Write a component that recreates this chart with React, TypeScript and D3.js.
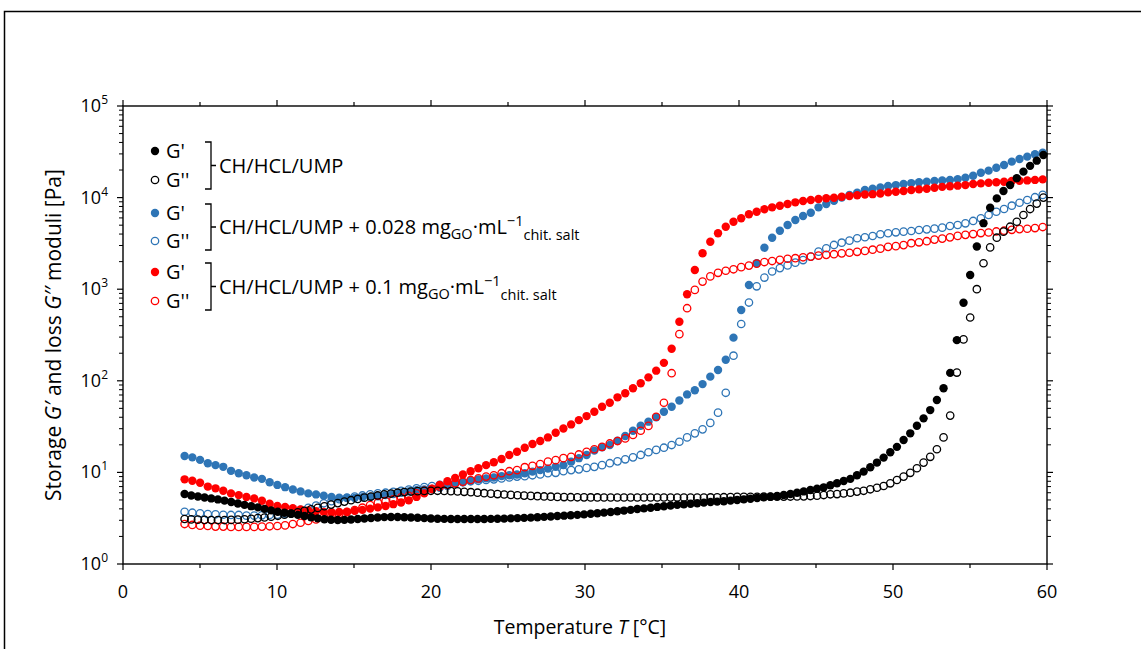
import React from "react";
import * as d3 from "d3";

const W = 1141;
const H = 649;

// Temperature grids (instrument sampling): colored samples every ~0.5 °C, black every ~0.43 °C
const T_START = 4;
const STEP_COLORED = 0.502;
const STEP_BLACK = 0.4323;

const xTicksMajor = [0, 10, 20, 30, 40, 50, 60];
const xTicksMinor = [5, 15, 25, 35, 45, 55];
const yDecades = [0, 1, 2, 3, 4, 5];

// CH/HCL/UMP
const blackG1 = [
  5.8, 5.6, 5.45, 5.33, 5.2, 5.07, 4.92, 4.75, 4.57, 4.42,
  4.28, 4.15, 4.0, 3.85, 3.72, 3.63, 3.53, 3.44, 3.34, 3.24,
  3.15, 3.08, 3.04, 3.02, 3.03, 3.06, 3.1, 3.14, 3.18, 3.22,
  3.25, 3.26, 3.26, 3.24, 3.22, 3.2, 3.17, 3.14, 3.12, 3.11,
  3.1, 3.1, 3.1, 3.1, 3.1, 3.1, 3.11, 3.12, 3.13, 3.15,
  3.17, 3.19, 3.21, 3.24, 3.27, 3.3, 3.34, 3.37, 3.4, 3.44,
  3.48, 3.53, 3.58, 3.64, 3.7, 3.76, 3.83, 3.9, 3.98, 4.05,
  4.12, 4.2, 4.27, 4.35, 4.42, 4.48, 4.55, 4.6, 4.68, 4.75,
  4.8, 4.85, 4.92, 5.0, 5.08, 5.16, 5.25, 5.34, 5.42, 5.52,
  5.66, 5.81, 6.0, 6.2, 6.43, 6.63, 6.87, 7.23, 7.6, 8.05,
  8.5, 9.3, 10.2, 11.4, 12.8, 14.5, 16.6, 19.0, 22.6, 26.7,
  32.3, 38.9, 47.9, 61.8, 83, 122, 278, 712, 1430, 2930,
  5260, 7740, 9800, 11800, 13700, 16300, 19200, 22200, 25300, 29200,
];
const blackG2 = [
  3.1, 3.07, 3.05, 3.03, 3.02, 3.02, 3.02, 3.03, 3.05, 3.08,
  3.12, 3.17, 3.22, 3.28, 3.36, 3.45, 3.55, 3.67, 3.8, 3.95,
  4.1, 4.27, 4.45, 4.62, 4.8, 4.97, 5.13, 5.3, 5.45, 5.6,
  5.75, 5.88, 6.0, 6.1, 6.18, 6.24, 6.28, 6.3, 6.3, 6.28,
  6.24, 6.2, 6.14, 6.08, 6.0, 5.93, 5.86, 5.8, 5.74, 5.68,
  5.63, 5.58, 5.54, 5.5, 5.46, 5.43, 5.4, 5.38, 5.36, 5.35,
  5.34, 5.33, 5.33, 5.32, 5.32, 5.32, 5.32, 5.32, 5.32, 5.32,
  5.32, 5.32, 5.32, 5.32, 5.32, 5.32, 5.32, 5.32, 5.32, 5.33,
  5.34, 5.36, 5.38, 5.4, 5.41, 5.42, 5.42, 5.43, 5.43, 5.44,
  5.44, 5.45, 5.46, 5.48, 5.52, 5.56, 5.66, 5.77, 5.8, 5.9,
  6.0, 6.17, 6.3, 6.54, 6.8, 7.1, 7.6, 8.26, 9.0, 9.9,
  11.1, 12.8, 14.8, 17.9, 24.1, 41.7, 123, 283, 491, 1000,
  1920, 2860, 3650, 4250, 4810, 5450, 6460, 7500, 8600, 10000,
];

// CH/HCL/UMP + 0.028 mg GO
const blueG1 = [
  15.1, 14.6, 13.7, 12.6, 12.0, 11.5, 10.4, 9.8, 9.3, 8.8,
  8.5, 7.8, 7.3, 6.9, 6.5, 6.2, 5.9, 5.75, 5.55, 5.4,
  5.3, 5.25, 5.25, 5.35, 5.4, 5.5, 5.65, 5.8, 6.0, 6.2,
  6.4, 6.5, 6.6, 6.8, 7.1, 7.5, 7.8, 8.1, 8.4, 8.6,
  8.8, 9.1, 9.3, 9.5, 9.8, 10.2, 10.6, 11.0, 11.5, 12.0,
  13.1, 14.3, 15.5, 17.3, 18.8, 19.9, 22.2, 25, 28.5, 32.3,
  35.8, 40, 46, 52, 61, 71, 79, 92, 111, 131,
  170, 296, 593, 1110, 1920, 2840, 3650, 4350, 5020, 5690,
  6290, 6840, 7830, 8510, 9250, 10000, 10700, 11300, 12100, 12500,
  12900, 13400, 13700, 14100, 14400, 14700, 14900, 15200, 15400, 15600,
  15900, 16500, 17300, 18700, 19700, 21200, 22700, 24700, 26400, 28000,
  29700, 30900,
];
const blueG2 = [
  3.72, 3.63, 3.58, 3.51, 3.49, 3.45, 3.43, 3.43, 3.37, 3.37,
  3.4, 3.43, 3.45, 3.55, 3.7, 3.9, 4.1, 4.35, 4.6, 4.85,
  5.1, 5.3, 5.45, 5.6, 5.75, 5.9, 6.0, 6.15, 6.3, 6.5,
  6.7, 6.9, 7.1, 7.3, 7.5, 7.7, 7.85, 8.0, 8.1, 8.26,
  8.4, 8.6, 8.8, 9.0, 9.1, 9.3, 9.5, 9.8, 9.9, 10.3,
  10.6, 10.8, 11.2, 11.5, 12.0, 12.6, 13.2, 13.9, 14.6, 15.5,
  16.6, 17.6, 18.6, 19.9, 21.6, 24.1, 26.7, 29.5, 34.7, 44.9,
  74, 188, 417, 715, 1075, 1340, 1560, 1700, 1820, 1950,
  2080, 2270, 2570, 2800, 3040, 3220, 3390, 3600, 3690, 3810,
  3980, 4080, 4180, 4250, 4320, 4430, 4500, 4580, 4700, 4900,
  5020, 5240, 5560, 5940, 6460, 7010, 7510, 8160, 8790, 9410,
  10100, 10700,
];

// CH/HCL/UMP + 0.1 mg GO
const redG1 = [
  8.4, 8.1, 7.7, 7.0, 6.7, 6.3, 5.9, 5.65, 5.4, 5.2,
  4.9, 4.55, 4.3, 4.2, 4.06, 3.94, 3.84, 3.76, 3.71, 3.68,
  3.7, 3.73, 3.8, 3.9, 4.02, 4.15, 4.3, 4.5, 4.7, 4.95,
  5.4, 5.9, 6.6, 7.3, 8.0, 8.7, 9.5, 10.3, 11.1, 12.0,
  12.9, 14.0, 15.5, 16.8, 18.6, 20.4, 22.0, 24.1, 27.1, 30.2,
  33.4, 37.2, 41.2, 46, 52, 57.6, 66, 73, 83, 94,
  109, 129, 157, 224, 442, 880, 1620, 2470, 3300, 4080,
  4810, 5450, 5940, 6570, 7010, 7450, 7830, 8160, 8510, 8880,
  9180, 9410, 9660, 9820, 9980, 10200, 10400, 10600, 10800, 10900,
  11100, 11400, 11600, 11800, 12100, 12300, 12500, 12800, 13100, 13300,
  13500, 13700, 14100, 14300, 14500, 14700, 14900, 15200, 15300, 15400,
  15600, 15800,
];
const redG2 = [
  2.73, 2.67, 2.62, 2.6, 2.56, 2.56, 2.54, 2.54, 2.54, 2.54,
  2.56, 2.58, 2.6, 2.64, 2.73, 2.82, 2.95, 3.07, 3.23, 3.4,
  3.51, 3.69, 3.88, 4.12, 4.4, 4.67, 4.87, 5.08, 5.34, 5.56,
  5.9, 6.3, 6.6, 7.0, 7.3, 7.6, 7.9, 8.26, 8.6, 9.0,
  9.3, 9.8, 10.3, 10.6, 11.4, 11.8, 12.3, 13.1, 13.6, 14.3,
  14.8, 15.7, 16.8, 17.9, 19.0, 20.7, 22.0, 23.5, 25.6, 28.5,
  32.2, 40.5, 57.6, 121, 323, 620, 983, 1210, 1380, 1510,
  1590, 1650, 1740, 1810, 1900, 1980, 2030, 2090, 2150, 2180,
  2230, 2270, 2330, 2370, 2410, 2460, 2500, 2560, 2620, 2700,
  2770, 2900, 2950, 3030, 3180, 3250, 3340, 3480, 3570, 3680,
  3820, 3920, 4000, 4100, 4160, 4270, 4350, 4450, 4530, 4570,
  4650, 4770,
];

const BLUE = "#2E75B6";
const RED = "#FF0000";
const BLACK = "#000000";

const FONT = "'Open Sans', Lato, 'DejaVu Sans', sans-serif";

type Series = { values: number[]; step: number; color: string; filled: boolean };

const seriesList: Series[] = [
  { values: blueG1, step: STEP_COLORED, color: BLUE, filled: true },
  { values: blueG2, step: STEP_COLORED, color: BLUE, filled: false },
  { values: redG1, step: STEP_COLORED, color: RED, filled: true },
  { values: redG2, step: STEP_COLORED, color: RED, filled: false },
  { values: blackG1, step: STEP_BLACK, color: BLACK, filled: true },
  { values: blackG2, step: STEP_BLACK, color: BLACK, filled: false },
];

const legendRows = [
  { y: 151, color: BLACK, filled: true, label: "G'" },
  { y: 180, color: BLACK, filled: false, label: "G''" },
  { y: 213, color: BLUE, filled: true, label: "G'" },
  { y: 241, color: BLUE, filled: false, label: "G''" },
  { y: 272, color: RED, filled: true, label: "G'" },
  { y: 301, color: RED, filled: false, label: "G''" },
];

const groupLabels = [
  { main: "CH/HCL/UMP", conc: "" },
  { main: "CH/HCL/UMP + 0.028 mg", conc: "0.028" },
  { main: "CH/HCL/UMP + 0.1 mg", conc: "0.1" },
];

export default function App() {
  const x = d3.scaleLinear().domain([0, 60]).range([123, 1047]);
  const y = d3.scaleLog().domain([1, 1e5]).range([564, 106]);
  const [x0, x1] = x.range();
  const [yb, yt] = y.range();

  const minorY: number[] = [];
  for (let d = 0; d < 5; d++) for (let m = 2; m <= 9; m++) minorY.push(m * Math.pow(10, d));

  const axisW = 1.4;
  const LF = 20; // legend font
  const SF = 14.5; // sub/superscript font

  return (
    <svg
      width={W}
      height={H}
      style={{ position: "absolute", left: 0, top: 0, background: "#fff" }}
      fontFamily={FONT}
    >
      <rect x={0} y={0} width={W} height={H} fill="#fff" />
      {/* figure frame */}
      <path d={`M4.5,${H + 5} V11.5 H${W + 5}`} fill="none" stroke="#000" strokeWidth={1.5} />

      {/* axes box */}
      <rect x={x0} y={yt} width={x1 - x0} height={yb - yt} fill="none" stroke="#000" strokeWidth={axisW} />

      {/* x ticks bottom & top */}
      {xTicksMajor.map((t) => (
        <g key={"xM" + t}>
          <line x1={x(t)} x2={x(t)} y1={yb} y2={yb + 6} stroke="#000" strokeWidth={1.2} />
          <line x1={x(t)} x2={x(t)} y1={yt} y2={yt - 6} stroke="#000" strokeWidth={1.2} />
          <text x={x(t)} y={598} fontSize={18} textAnchor="middle" fill="#000">
            {t}
          </text>
        </g>
      ))}
      {xTicksMinor.map((t) => (
        <g key={"xm" + t}>
          <line x1={x(t)} x2={x(t)} y1={yb} y2={yb + 4} stroke="#000" strokeWidth={1.2} />
          <line x1={x(t)} x2={x(t)} y1={yt} y2={yt - 4} stroke="#000" strokeWidth={1.2} />
        </g>
      ))}

      {/* y ticks left & right */}
      {yDecades.map((d) => {
        const v = Math.pow(10, d);
        return (
          <g key={"yM" + d}>
            <line x1={x0 - 6} x2={x0} y1={y(v)} y2={y(v)} stroke="#000" strokeWidth={1.2} />
            <line x1={x1} x2={x1 + 6} y1={y(v)} y2={y(v)} stroke="#000" strokeWidth={1.2} />
            <text x={108} y={y(v) + 6} fontSize={18} textAnchor="end" fill="#000">
              10
              <tspan dy={-8} fontSize={12}>
                {d}
              </tspan>
            </text>
          </g>
        );
      })}
      {minorY.map((v) => (
        <g key={"ym" + v}>
          <line x1={x0 - 4} x2={x0} y1={y(v)} y2={y(v)} stroke="#000" strokeWidth={1} />
          <line x1={x1} x2={x1 + 4} y1={y(v)} y2={y(v)} stroke="#000" strokeWidth={1} />
        </g>
      ))}

      {/* axis titles */}
      <text x={580} y={634} fontSize={19.5} textAnchor="middle" fill="#000">
        Temperature <tspan fontStyle="italic">T</tspan> [°C]
      </text>
      <text transform={`translate(61,${(yb + yt) / 2}) rotate(-90)`} fontSize={21} textAnchor="middle" fill="#000">
        Storage <tspan fontStyle="italic">G′</tspan> and loss <tspan fontStyle="italic">G′′</tspan> moduli [Pa]
      </text>

      {/* data */}
      {seriesList.map((s, si) => (
        <g key={"s" + si}>
          {s.values.map((v, i) => {
            const t = T_START + i * s.step;
            return s.filled ? (
              <circle key={i} cx={x(t)} cy={y(v)} r={4.2} fill={s.color} />
            ) : (
              <circle key={i} cx={x(t)} cy={y(v)} r={3.7} fill="none" stroke={s.color} strokeWidth={1.3} />
            );
          })}
        </g>
      ))}

      {/* legend */}
      {legendRows.map((r, i) => (
        <g key={"lg" + i}>
          {r.filled ? (
            <circle cx={155} cy={r.y} r={4.2} fill={r.color} />
          ) : (
            <circle cx={155} cy={r.y} r={3.7} fill="none" stroke={r.color} strokeWidth={1.3} />
          )}
          <text x={166} y={r.y + 7} fontSize={LF} fill="#000">
            {r.label}
          </text>
        </g>
      ))}
      {groupLabels.map((g, i) => {
        const ya = legendRows[i * 2].y;
        const yb2 = legendRows[i * 2 + 1].y;
        const top = ya - 9;
        const bot = yb2 + 9;
        const mid = (top + bot) / 2;
        return (
          <g key={"gl" + i}>
            <path
              d={`M205,${top} H211 V${bot} H205 M211,${mid} H216`}
              fill="none"
              stroke="#000"
              strokeWidth={1.3}
            />
            <text x={219} y={mid + 7} fontSize={LF} fill="#000">
              {g.main}
              {g.conc !== "" && (
                <>
                  <tspan dy={5} fontSize={SF}>
                    GO
                  </tspan>
                  <tspan dy={-5} fontSize={LF}>
                    ·mL
                  </tspan>
                  <tspan dy={-8} fontSize={SF}>
                    −1
                  </tspan>
                  <tspan dy={14} fontSize={SF}>
                    chit. salt
                  </tspan>
                </>
              )}
            </text>
          </g>
        );
      })}
    </svg>
  );
}
